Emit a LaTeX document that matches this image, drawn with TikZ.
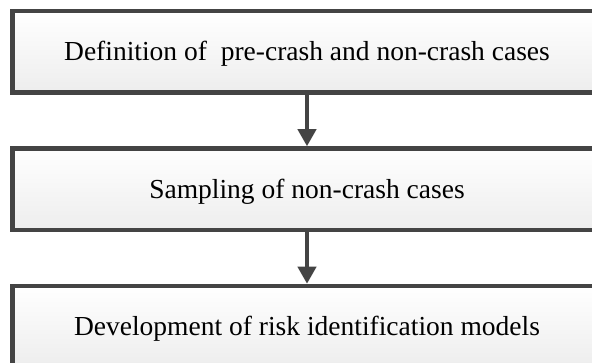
\documentclass[tikz,border=0pt]{standalone}
\usepackage{fontspec}
\setmainfont{Liberation Serif}
\usetikzlibrary{arrows.meta}
\definecolor{edge}{HTML}{444444}
\tikzset{
  stage/.style={draw=edge, line width=4.5pt, top color=white, bottom color=black!7,
    minimum width=589pt, minimum height=81.5pt, inner sep=0pt,
    text height=18pt, text depth=0pt, font=\fontsize{27.5}{30}\selectfont},
  flow/.style={draw=edge, line width=4pt, -{Triangle[length=17pt, width=18pt]}}
}
\begin{document}
\begin{tikzpicture}[x=1pt, y=-1pt]
  \useasboundingbox (0,0) rectangle (592,363);
  \clip (0,0) rectangle (592,363);
  \node[stage] (def) at (307,51.75) {Definition of\ \ pre-crash and non-crash cases};
  \node[stage] (samp) at (307,189.25) {Sampling of non-crash cases};
  \node[stage] (dev) at (307,326.75) {Development of risk identification models};
  \draw[flow] (def.south) -- (samp.north);
  \draw[flow] (samp.south) -- (dev.north);
\end{tikzpicture}
\end{document}
